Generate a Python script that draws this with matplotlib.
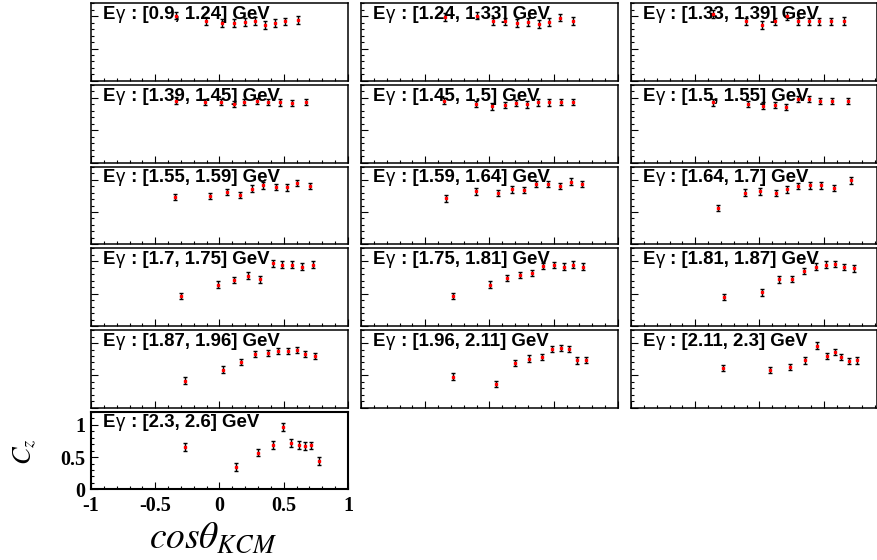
import matplotlib
matplotlib.use('Agg')
import matplotlib.pyplot as plt
from matplotlib.ticker import MultipleLocator

plt.rcParams['mathtext.fontset'] = 'stix'

# photon energy bins (GeV)
energy_bins = ["[0.9, 1.24]", "[1.24, 1.33]", "[1.33, 1.39]",
               "[1.39, 1.45]", "[1.45, 1.5]", "[1.5, 1.55]",
               "[1.55, 1.59]", "[1.59, 1.64]", "[1.64, 1.7]",
               "[1.7, 1.75]", "[1.75, 1.81]", "[1.81, 1.87]",
               "[1.87, 1.96]", "[1.96, 2.11]", "[2.11, 2.3]",
               "[2.3, 2.6]"]

# cos(theta_K) and Cz, one pair per panel
cos_e1 = [-0.34, -0.105, 0.017, 0.113, 0.196, 0.274, 0.356, 0.43, 0.507, 0.613]
cz_e1 = [1.01, 0.93, 0.90, 0.90, 0.91, 0.93, 0.87, 0.90, 0.92, 0.94]
cos_e2 = [-0.346, -0.1, 0.025, 0.123, 0.212, 0.297, 0.383, 0.465, 0.549, 0.647]
cz_e2 = [0.99, 1.01, 0.92, 0.92, 0.89, 0.91, 0.88, 0.91, 0.98, 0.93]
cos_e3 = [-0.36, -0.107, 0.019, 0.118, 0.212, 0.297, 0.383, 0.465, 0.554, 0.658]
cz_e3 = [1.04, 0.92, 0.86, 0.92, 1.00, 0.92, 0.92, 0.92, 0.92, 0.93]
cos_e4 = [-0.339, -0.113, 0.012, 0.113, 0.191, 0.292, 0.377, 0.47, 0.564, 0.673]
cz_e4 = [0.96, 0.94, 0.94, 0.91, 0.94, 0.95, 0.94, 0.93, 0.92, 0.94]
cos_e5 = [-0.354, -0.105, 0.019, 0.121, 0.206, 0.292, 0.377, 0.463, 0.556, 0.65]
cz_e5 = [0.95, 0.91, 0.87, 0.89, 0.92, 0.90, 0.93, 0.93, 0.94, 0.94]
cos_e6 = [-0.362, -0.09, 0.027, 0.121, 0.206, 0.30, 0.385, 0.471, 0.564, 0.689]
cz_e6 = [0.93, 0.91, 0.88, 0.89, 0.86, 0.98, 0.98, 0.95, 0.95, 0.95]
cos_e7 = [-0.346, -0.074, 0.056, 0.162, 0.255, 0.341, 0.437, 0.523, 0.605, 0.702]
cz_e7 = [0.73, 0.75, 0.81, 0.76, 0.86, 0.91, 0.89, 0.88, 0.95, 0.90]
cos_e8 = [-0.338, -0.105, 0.066, 0.175, 0.268, 0.362, 0.455, 0.549, 0.634, 0.72]
cz_e8 = [0.71, 0.82, 0.79, 0.85, 0.84, 0.93, 0.93, 0.90, 0.97, 0.93]
cos_e9 = [-0.323, -0.113, 0.004, 0.128, 0.214, 0.30, 0.393, 0.479, 0.58, 0.712]
cz_e9 = [0.56, 0.80, 0.82, 0.79, 0.85, 0.90, 0.91, 0.91, 0.87, 0.99]
cos_e10 = [-0.30, -0.012, 0.113, 0.222, 0.315, 0.416, 0.486, 0.564, 0.642, 0.728]
cz_e10 = [0.46, 0.64, 0.71, 0.78, 0.72, 0.97, 0.95, 0.95, 0.92, 0.95]
cos_e11 = [-0.282, 0.002, 0.134, 0.24, 0.333, 0.419, 0.502, 0.577, 0.647, 0.73]
cz_e11 = [0.46, 0.64, 0.74, 0.79, 0.82, 0.93, 0.94, 0.92, 0.95, 0.92]
cos_e12 = [-0.274, 0.017, 0.152, 0.255, 0.349, 0.44, 0.518, 0.588, 0.658, 0.738]
cz_e12 = [0.45, 0.52, 0.72, 0.73, 0.85, 0.92, 0.95, 0.96, 0.91, 0.89]
cos_e13 = [-0.266, 0.03, 0.17, 0.276, 0.375, 0.458, 0.531, 0.601, 0.668, 0.743]
cz_e13 = [0.42, 0.59, 0.71, 0.83, 0.85, 0.88, 0.88, 0.89, 0.83, 0.80]
cos_e14 = [-0.282, 0.048, 0.196, 0.31, 0.406, 0.486, 0.554, 0.619, 0.679, 0.751]
cz_e14 = [0.48, 0.37, 0.69, 0.76, 0.78, 0.91, 0.92, 0.91, 0.73, 0.74]
cos_e15 = [-0.282, 0.079, 0.24, 0.356, 0.45, 0.523, 0.585, 0.637, 0.694, 0.761]
cz_e15 = [0.61, 0.58, 0.63, 0.73, 0.96, 0.80, 0.86, 0.78, 0.72, 0.73]
cos_e16 = [-0.266, 0.126, 0.302, 0.414, 0.497, 0.559, 0.619, 0.668, 0.712, 0.772]
cz_e16 = [0.66, 0.35, 0.57, 0.69, 0.97, 0.72, 0.69, 0.67, 0.68, 0.44]

# typical stat. error per panel
cz_err = [0.06, 0.06, 0.06, 0.05, 0.05, 0.05, 0.05, 0.05, 0.05,
          0.05, 0.05, 0.05, 0.05, 0.05, 0.05, 0.06]

cos_all = [cos_e1, cos_e2, cos_e3, cos_e4, cos_e5, cos_e6, cos_e7, cos_e8,
           cos_e9, cos_e10, cos_e11, cos_e12, cos_e13, cos_e14, cos_e15, cos_e16]
cz_all = [cz_e1, cz_e2, cz_e3, cz_e4, cz_e5, cz_e6, cz_e7, cz_e8,
          cz_e9, cz_e10, cz_e11, cz_e12, cz_e13, cz_e14, cz_e15, cz_e16]

W, H = 878, 560
fig = plt.figure(figsize=(W / 100, H / 100), dpi=100)

col_left = [91, 361, 631]
panel_w = 257
panel_h = 77.6
row_top0 = 3.3
row_step = 81.7

serif_bold = dict(family='Liberation Serif', weight='bold', size=14.5)
title_size = 13.4

for i in range(len(energy_bins)):
    row, col = divmod(i, 3)
    left = col_left[col]
    top = row_top0 + row * row_step
    right = min(left + panel_w, W - 1)
    ax = fig.add_axes([left / W, 1 - (top + panel_h) / H, (right - left) / W, panel_h / H])
    ax.set_xlim(-1, -1 + 2 * (right - left) / panel_w)
    ax.set_ylim(0, 1.2)

    ax.errorbar(cos_all[i], cz_all[i], yerr=cz_err[i], fmt='s', color='red',
                ms=2.0, mec='red', ecolor='black', elinewidth=1.0,
                capsize=1.5, capthick=1.0, zorder=3)

    ax.xaxis.set_major_locator(MultipleLocator(0.5))
    ax.xaxis.set_minor_locator(MultipleLocator(0.1))
    ax.yaxis.set_major_locator(MultipleLocator(0.5))
    ax.yaxis.set_minor_locator(MultipleLocator(0.1))
    ax.tick_params(which='both', direction='in', top=False, right=False, width=0.8)
    ax.tick_params(which='major', length=5)
    ax.tick_params(which='minor', length=2.5)
    for s in ax.spines.values():
        s.set_linewidth(1.1)

    last = (i == len(energy_bins) - 1)
    if last:
        ax.set_xticks([-1, -0.5, 0, 0.5, 1])
        ax.set_xticklabels(['-1', '-0.5', '0', '0.5', '1'], fontdict=serif_bold)
        ax.set_yticks([0, 0.5, 1])
        ax.set_yticklabels(['0', '0.5', '1'], fontdict=serif_bold)
        ax.tick_params(axis='x', which='major', pad=5)
        ax.tick_params(axis='y', which='major', pad=4)
        for s in ax.spines.values():
            s.set_linewidth(1.5)
    else:
        ax.tick_params(labelbottom=False, labelleft=False)

    # panel label: bold "E", plain gamma, bold rest
    t1 = ax.text(0.047, 0.80, 'E', transform=ax.transAxes, fontsize=title_size,
                 fontweight='bold', family='Liberation Sans', zorder=2)
    t2 = ax.annotate('γ', xy=(1, 0), xycoords=t1, xytext=(0.6, 0),
                     textcoords='offset points', va='bottom', ha='left',
                     fontsize=title_size, family='Liberation Sans', zorder=2)
    ax.annotate(' : ' + energy_bins[i] + ' GeV', xy=(1, 0), xycoords=t2,
                va='bottom', ha='left', fontsize=title_size, fontweight='bold',
                family='Liberation Sans', zorder=2)

fig.text(25 / W, 1 - 452 / H, r'$C_z$', rotation=90, fontsize=19,
         ha='center', va='center')
fig.text(213 / W, 1 - 538 / H, r'$cos\theta_{KCM}$', fontsize=27,
         ha='center', va='center')

fig.savefig('out.png', dpi=100)
